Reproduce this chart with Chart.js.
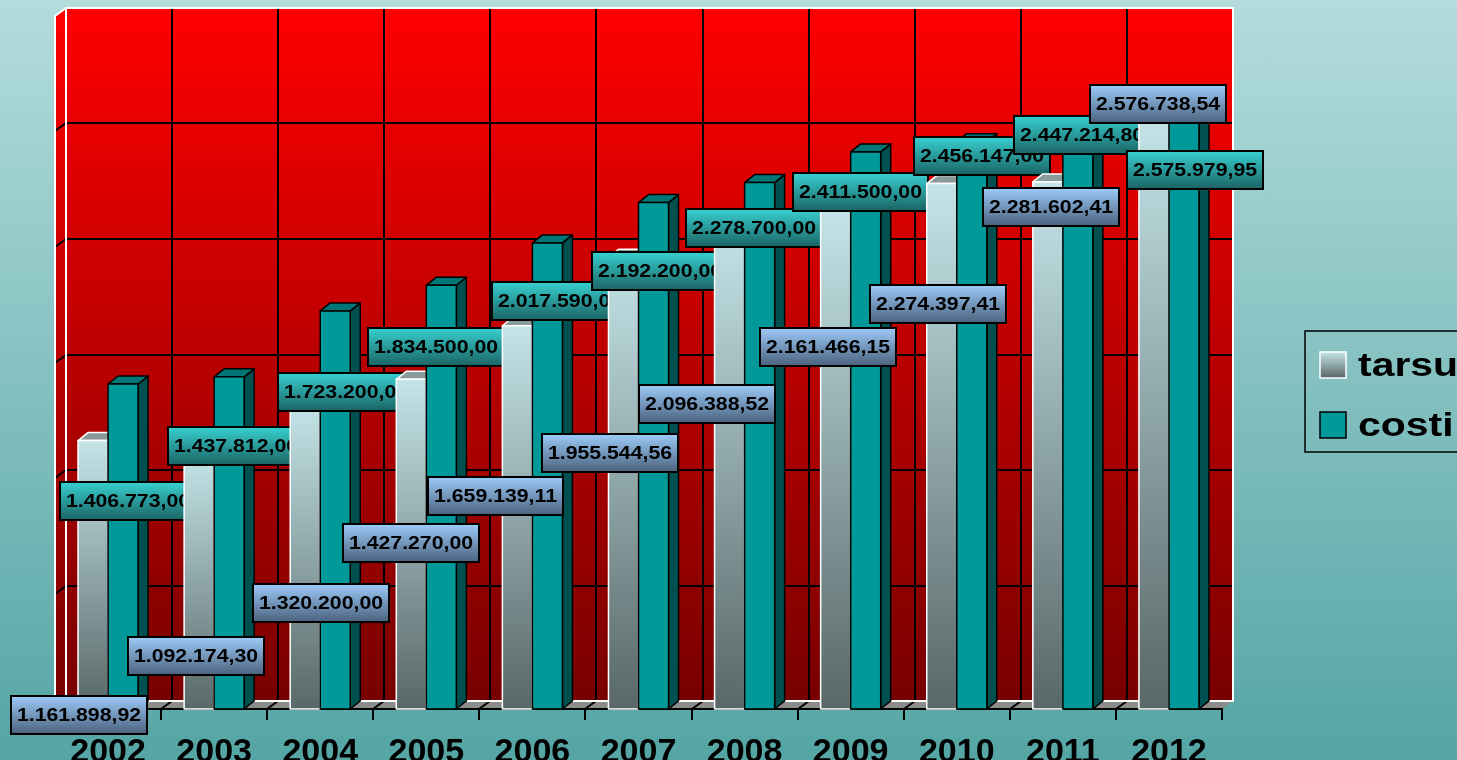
<!DOCTYPE html>
<html>
<head>
<meta charset="utf-8">
<script src="https://cdn.jsdelivr.net/npm/chart.js@4.4.1/dist/chart.umd.min.js"></script>
<style>
html, body { margin: 0; padding: 0; overflow: hidden; }
body { width: 1457px; height: 760px; background: linear-gradient(#b4dcdc, #55a5a5); }
canvas { display: block; }
</style>
</head>
<body>
<canvas id="graph" width="1457" height="760"></canvas>
<script>
const years = ['2002', '2003', '2004', '2005', '2006', '2007', '2008', '2009', '2010', '2011', '2012'];
const tarsu = [1161898.92, 1092174.30, 1320200.00, 1427270.00, 1659139.11, 1955544.56, 2096388.52, 2161466.15, 2274397.41, 2281602.41, 2576738.54];
const costi = [1406773.00, 1437812.00, 1723200.00, 1834500.00, 2017590.00, 2192200.00, 2278700.00, 2411500.00, 2456147.00, 2447214.80, 2575979.95];
const yMax = 3000000;
const yStep = 500000;

// where the value boxes sit, px from the top centre of each bar
const tarsuLabelShift = [[-14, 274], [-3, 199], [16, 199], [0, 164], [-22, 170], [-13, 196], [-23, 179], [-8, 137], [-4, 120], [3, 25], [4, -10]];
const costiLabelShift = [[5, 117], [7, 69], [11, 81], [-5, 62], [13, 58], [6, 68], [-6, 45], [-5, 40], [10, 14], [4, -9], [11, 56]];

const wallDX = 11, wallDY = 8;
const barDX = 10, barDY = 8;
const stretch = 1.15;   // text in the picture is wider than plain Arial
const fontFam = '"Liberation Sans", Arial, sans-serif';

function fmt(v) {
  let parts = v.toFixed(2).split('.');
  return parts[0].replace(/\B(?=(\d{3})+(?!\d))/g, '.') + ',' + parts[1];
}

function tarsuGrad(ctx, top, bottom) {
  let g = ctx.createLinearGradient(0, top, 0, bottom);
  g.addColorStop(0, '#c4e4e8');
  g.addColorStop(1, '#596767');
  return g;
}

const walls = {
  id: 'walls',
  beforeDraw(chart) {
    const ctx = chart.ctx, a = chart.chartArea;
    const x = chart.scales.x, y = chart.scales.y;
    ctx.save();
    let red = ctx.createLinearGradient(0, a.top - wallDY, 0, a.bottom - wallDY);
    red.addColorStop(0, '#ff0000');
    red.addColorStop(1, '#780000');
    ctx.fillStyle = red;
    // left wall
    ctx.beginPath();
    ctx.moveTo(a.left, a.top);
    ctx.lineTo(a.left + wallDX, a.top - wallDY);
    ctx.lineTo(a.left + wallDX, a.bottom - wallDY);
    ctx.lineTo(a.left, a.bottom);
    ctx.closePath();
    ctx.fill();
    // back wall
    ctx.fillRect(a.left + wallDX, a.top - wallDY, a.right - a.left, a.bottom - a.top);
    // floor
    ctx.fillStyle = '#8c8c8c';
    ctx.beginPath();
    ctx.moveTo(a.left, a.bottom);
    ctx.lineTo(a.right, a.bottom);
    ctx.lineTo(a.right + wallDX, a.bottom - wallDY);
    ctx.lineTo(a.left + wallDX, a.bottom - wallDY);
    ctx.closePath();
    ctx.fill();

    ctx.strokeStyle = '#000';
    ctx.lineWidth = 2;
    for (let v = yStep; v < yMax; v += yStep) {
      let py = Math.round(y.getPixelForValue(v));
      ctx.beginPath();
      ctx.moveTo(a.left, py);
      ctx.lineTo(a.left + wallDX, py - wallDY);
      ctx.lineTo(a.right + wallDX, py - wallDY);
      ctx.stroke();
    }
    for (let i = 1; i < years.length; i++) {
      let px = Math.round((x.getPixelForValue(i - 1) + x.getPixelForValue(i)) / 2);
      ctx.beginPath();
      ctx.moveTo(px + wallDX, a.top - wallDY);
      ctx.lineTo(px + wallDX, a.bottom - wallDY);
      ctx.lineTo(px, a.bottom);
      ctx.stroke();
    }
    ctx.strokeStyle = '#fff';
    ctx.strokeRect(a.left + wallDX, a.top - wallDY, a.right - a.left, a.bottom - a.top);
    ctx.beginPath();
    ctx.moveTo(a.left, a.bottom);
    ctx.lineTo(a.left, a.top);
    ctx.lineTo(a.left + wallDX, a.top - wallDY);
    ctx.stroke();
    ctx.restore();
  }
};

function drawBar(ctx, el, isCosti) {
  const p = el.getProps(['x', 'y', 'base', 'width'], true);
  const l = p.x - p.width / 2, r = p.x + p.width / 2;
  const edge = isCosti ? '#000' : '#fff';
  ctx.save();
  ctx.lineWidth = 1.5;
  ctx.lineJoin = 'round';
  // side
  ctx.beginPath();
  ctx.moveTo(r, p.y);
  ctx.lineTo(r + barDX, p.y - barDY);
  ctx.lineTo(r + barDX, p.base - barDY);
  ctx.lineTo(r, p.base);
  ctx.closePath();
  ctx.fillStyle = isCosti ? '#005050' : '#4e5a5a';
  ctx.fill();
  ctx.strokeStyle = '#000';
  ctx.stroke();
  // top
  ctx.beginPath();
  ctx.moveTo(l, p.y);
  ctx.lineTo(l + barDX, p.y - barDY);
  ctx.lineTo(r + barDX, p.y - barDY);
  ctx.lineTo(r, p.y);
  ctx.closePath();
  ctx.fillStyle = isCosti ? '#007676' : '#8a9999';
  ctx.fill();
  ctx.strokeStyle = isCosti ? '#000' : '#fff';
  ctx.stroke();
  // front
  ctx.fillStyle = isCosti ? '#009999' : tarsuGrad(ctx, p.y, p.base);
  ctx.fillRect(l, p.y, p.width, p.base - p.y);
  ctx.strokeStyle = edge;
  ctx.strokeRect(l, p.y, p.width, p.base - p.y);
  ctx.restore();
}

function drawValueBox(ctx, el, value, shift, c1, c2) {
  const txt = fmt(value);
  ctx.save();
  ctx.font = 'bold 18.5px ' + fontFam;
  const w = Math.round(ctx.measureText(txt).width * stretch + 12), h = 38;
  const cx = el.x + shift[0], cy = el.y + shift[1];
  const bx = Math.round(cx - w / 2), by = Math.round(cy - h / 2);
  let g = ctx.createLinearGradient(0, by, 0, by + h);
  g.addColorStop(0, c1);
  g.addColorStop(1, c2);
  ctx.fillStyle = g;
  ctx.fillRect(bx, by, w, h);
  ctx.strokeStyle = '#000';
  ctx.lineWidth = 2;
  ctx.strokeRect(bx, by, w, h);
  ctx.translate(bx + w / 2, by + h / 2 + 1);
  ctx.scale(stretch, 1);
  ctx.fillStyle = '#000';
  ctx.textAlign = 'center';
  ctx.textBaseline = 'middle';
  ctx.fillText(txt, 0, 0);
  ctx.restore();
}

// Excel draws one year at a time, so the next year's bars cover the boxes
const bars3d = {
  id: 'bars3d',
  beforeDatasetsDraw(chart) {
    const ctx = chart.ctx;
    const mt = chart.getDatasetMeta(0), mc = chart.getDatasetMeta(1);
    for (let i = 0; i < years.length; i++) {
      drawBar(ctx, mt.data[i], false);
      drawBar(ctx, mc.data[i], true);
      drawValueBox(ctx, mt.data[i], tarsu[i], tarsuLabelShift[i], '#9dcbf8', '#4b627e');
      drawValueBox(ctx, mc.data[i], costi[i], costiLabelShift[i], '#38d0d0', '#1b6464');
    }
    return false;
  }
};

const legendBox = {
  id: 'legendBox',
  afterDraw(chart) {
    const ctx = chart.ctx;
    const sets = chart.data.datasets;
    ctx.save();
    ctx.strokeStyle = '#000';
    ctx.lineWidth = 1.5;
    ctx.strokeRect(1305, 331, 220, 121);
    for (let i = 0; i < sets.length; i++) {
      const my = 352 + i * 60;
      ctx.fillStyle = i === 0 ? tarsuGrad(ctx, my, my + 26) : '#009999';
      ctx.fillRect(1320, my, 26, 26);
      ctx.strokeStyle = i === 0 ? '#fff' : '#000';
      ctx.lineWidth = 1.5;
      ctx.strokeRect(1320, my, 26, 26);
      ctx.save();
      ctx.translate(1358, my + 24);
      ctx.scale(1.24, 1);
      ctx.font = 'bold 33px ' + fontFam;
      ctx.fillStyle = '#000';
      ctx.textBaseline = 'alphabetic';
      ctx.fillText(sets[i].label, 0, 0);
      ctx.restore();
    }
    ctx.restore();
  }
};

const ctx = document.getElementById('graph').getContext('2d');
const chart = new Chart(ctx, {
  type: 'bar',
  data: {
    labels: years,
    datasets: [
      { label: 'tarsu', data: tarsu, backgroundColor: '#9fbcbf', categoryPercentage: 0.566, barPercentage: 1 },
      { label: 'costi', data: costi, backgroundColor: '#009999', categoryPercentage: 0.566, barPercentage: 1 }
    ]
  },
  options: {
    responsive: false,
    animation: false,
    devicePixelRatio: 1,
    layout: { padding: { left: 55, right: 235, top: 16, bottom: 0 } },
    plugins: {
      legend: { display: false },
      tooltip: { enabled: false }
    },
    scales: {
      x: {
        grid: { drawOnChartArea: false, drawTicks: true, tickLength: 11, color: '#000', lineWidth: 2 },
        border: { display: true, color: '#000', width: 2 },
        ticks: { color: '#000', font: { family: 'Liberation Sans', size: 34, weight: 'bold' }, padding: 12, maxRotation: 0, autoSkip: false },
        afterFit(scale) { scale.height = 51; }
      },
      y: { display: false, min: 0, max: yMax, ticks: { stepSize: yStep } }
    }
  },
  plugins: [walls, bars3d, legendBox]
});
</script>
</body>
</html>
